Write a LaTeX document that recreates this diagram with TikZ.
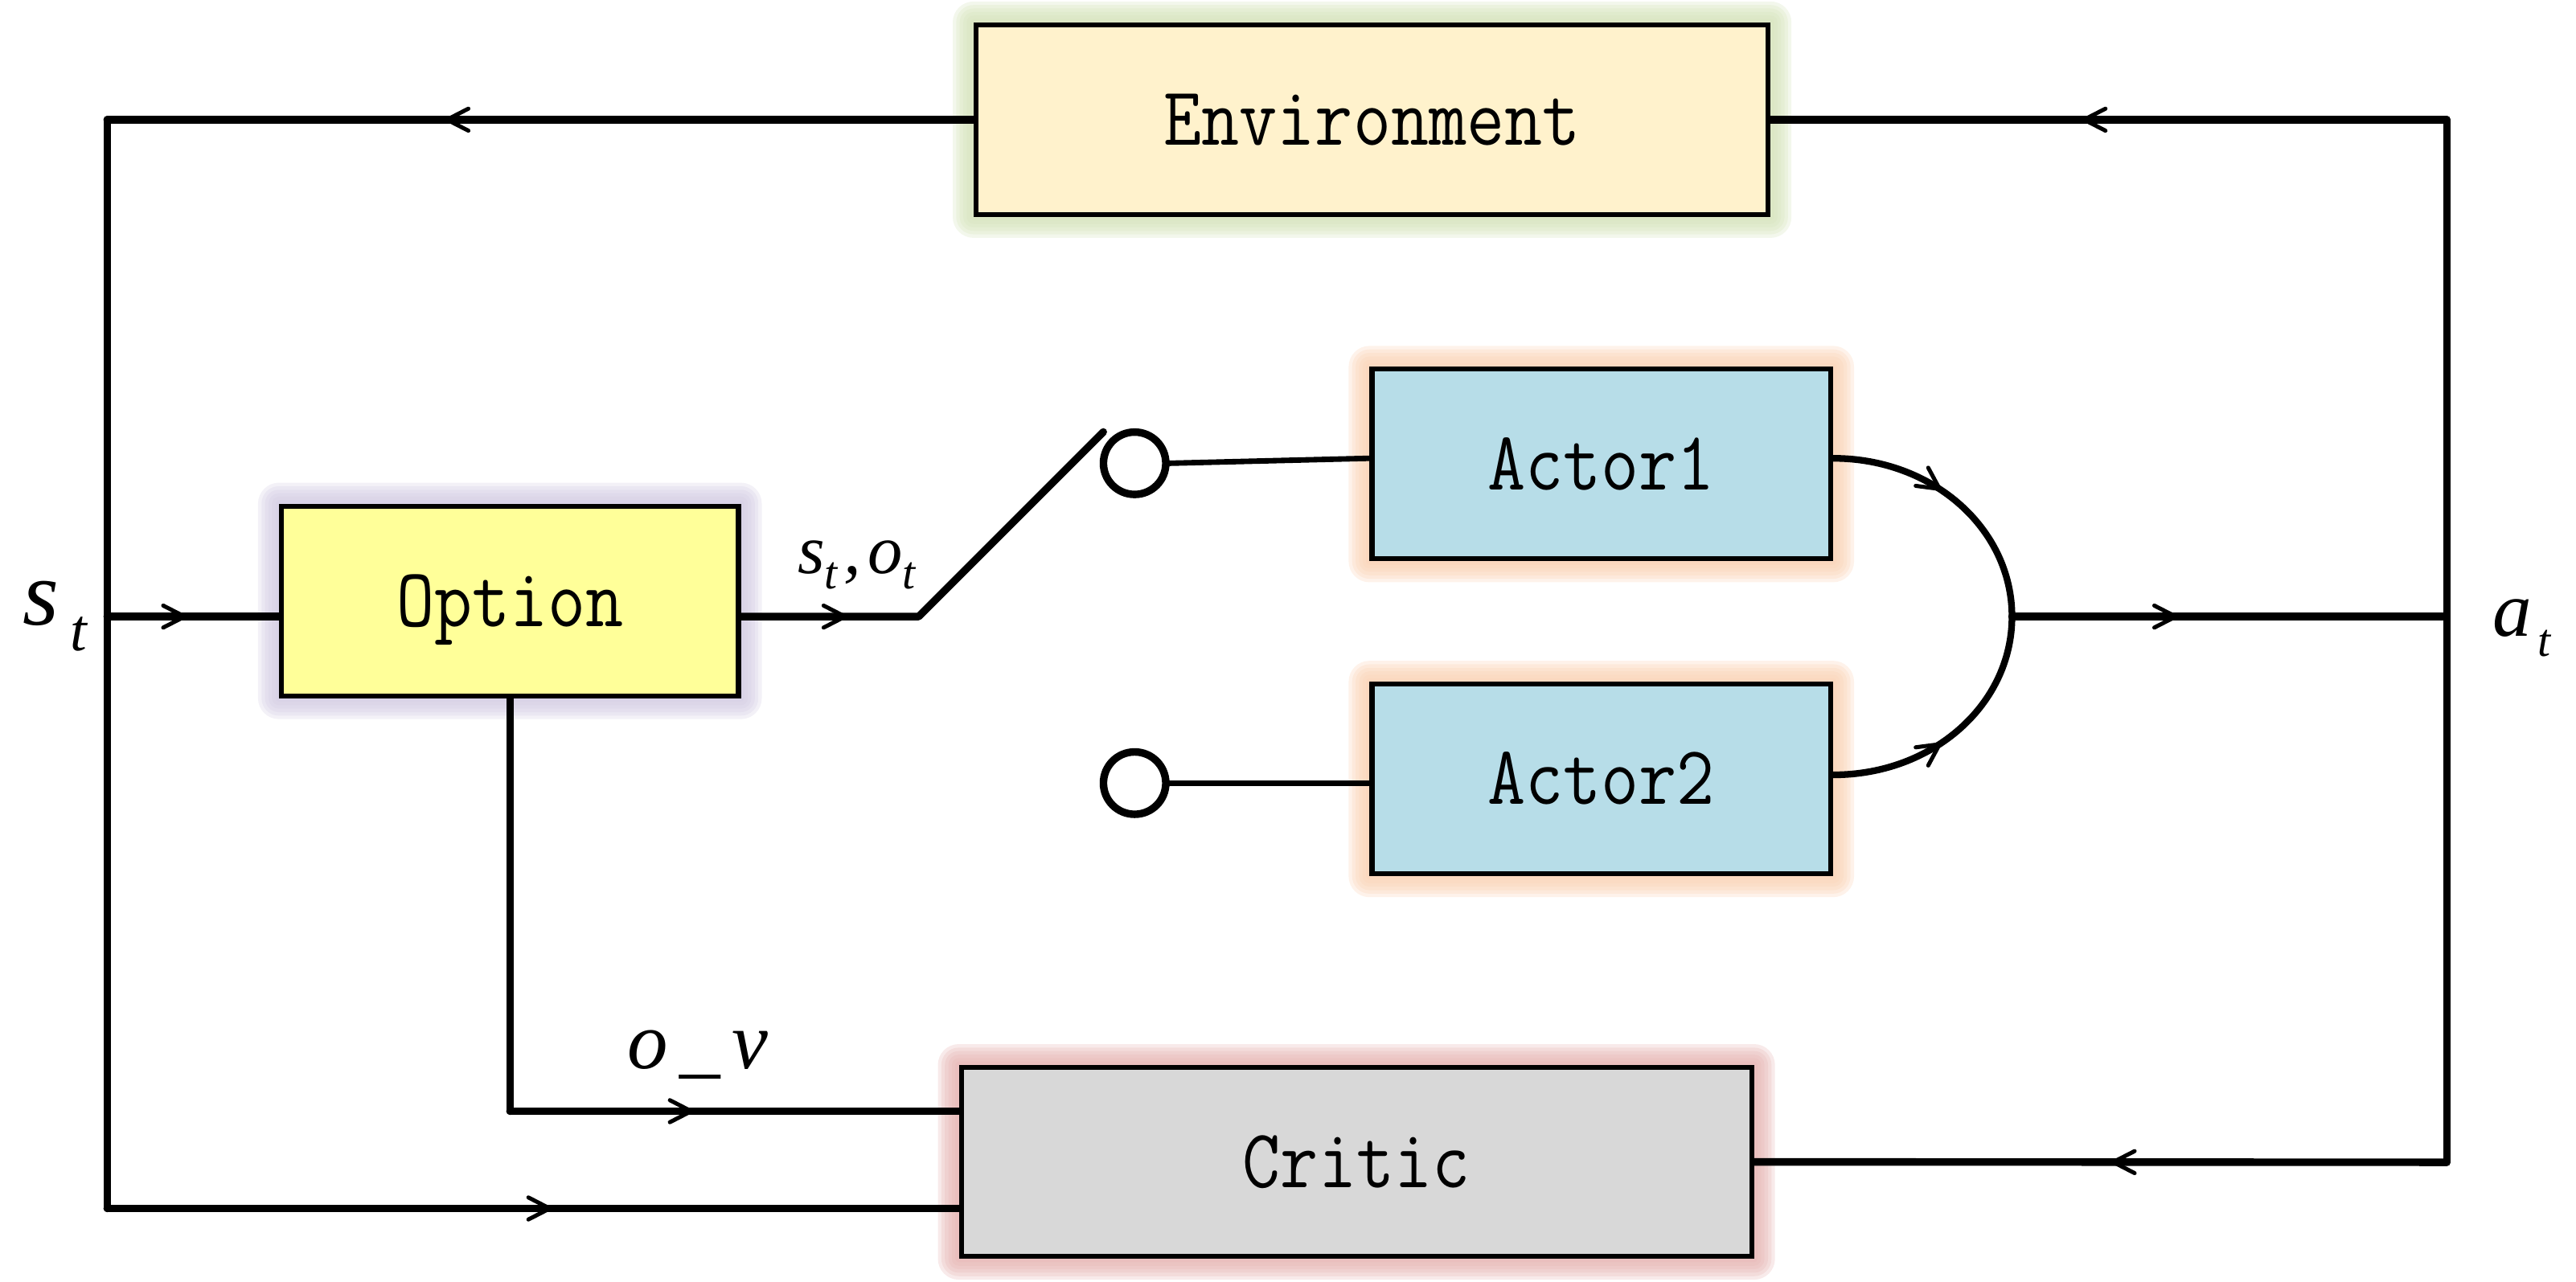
\documentclass[tikz,border=0pt]{standalone}
\usepackage{fontspec}
\usepackage{graphicx}
\newfontfamily\tmsfont{Liberation Serif}
\usetikzlibrary{arrows.meta,decorations.markings,backgrounds,calc}

\definecolor{envfill}{HTML}{FFF2CC}
\definecolor{envglow}{HTML}{D5E3BA}
\definecolor{optfill}{HTML}{FFFF99}
\definecolor{optglow}{HTML}{D3CCE3}
\definecolor{actfill}{HTML}{B7DDE8}
\definecolor{actglow}{HTML}{FAD2B4}
\definecolor{crtfill}{HTML}{D8D8D8}
\definecolor{crtglow}{HTML}{E6B5B3}

\newcommand\boxtxt[1]{\scalebox{0.88}[1]{\fontsize{14.4}{14.4}\selectfont\ttfamily #1}}
\newcommand\glowbox[2]{%
  \foreach \d in {3.6pt,3.0pt,2.4pt,1.8pt,1.2pt,0.6pt}{
    \fill[#2, opacity=0.28, rounded corners=\d]
      ([xshift=-\d,yshift=\d]#1.north west) rectangle ([xshift=\d,yshift=-\d]#1.south east);
  }}

\begin{document}
\begin{tikzpicture}[x=0.01cm,y=-0.01cm,
  blk/.style={draw, line width=0.85pt, inner sep=0pt, text height=8.8pt, text depth=0pt},
  wire/.style={line width=1.3pt, line join=round, line cap=round},
  thinwire/.style={line width=0.95pt, line cap=round},
  port/.style={circle, draw, fill=white, line width=1.3pt, minimum size=0.378cm, inner sep=0pt},
  flowmark/.style={postaction={decorate,decoration={markings,mark=at position #1 with {\arrow{Straight Barb[length=3.7pt,width=3.8pt,line width=0.7pt,line cap=round]}}}}},
  lbl/.style={inner sep=0pt, anchor=base west}]

\useasboundingbox (0,0) rectangle (1562,777.6);

% blocks
\node[blk, fill=envfill, minimum width=4.80cm, minimum height=1.15cm] (env) at (832,72.6) {\boxtxt{Environment}};
\node[blk, fill=optfill, minimum width=2.77cm, minimum height=1.15cm] (opt) at (309.2,364.5) {\boxtxt{Option}};
\node[blk, fill=actfill, minimum width=2.78cm, minimum height=1.15cm] (act1) at (971,281.5) {\boxtxt{Actor1}};
\node[blk, fill=actfill, minimum width=2.78cm, minimum height=1.15cm] (act2) at (971,472.5) {\boxtxt{Actor2}};
\node[blk, fill=crtfill, minimum width=4.79cm, minimum height=1.145cm] (crt) at (822.5,704.75) {\boxtxt{Critic}};

% switch contacts
\node[port] (p1) at (688,281) {};
\node[port] (p2) at (688,475) {};

% glows
\begin{scope}[on background layer]
  \glowbox{env}{envglow}
  \glowbox{opt}{optglow}
  \glowbox{act1}{actglow}
  \glowbox{act2}{actglow}
  \glowbox{crt}{crtglow}
\end{scope}

% junction coordinates
\coordinate (tl) at (65,72.6);
\coordinate (bl) at (65,733);
\coordinate (jl) at (65,374);
\coordinate (sw) at (557,374);
\coordinate (swt) at (669,262);
\coordinate (apex) at (1220,374);
\coordinate (jr) at (1483.6,374);
\coordinate (tr) at (1483.6,72.6);
\coordinate (br) at (1483.6,705);
\coordinate (ob) at (309.2,674);

% left loop
\draw[wire,flowmark=0.613] (env.west) -- (tl);
\draw[wire] (tl) -- (bl);
\draw[wire,flowmark=0.525] (bl) -- (crt.west |- bl);
\draw[wire,flowmark=0.477] (jl) -- (opt.west |- jl);

% option to switch
\draw[wire,flowmark=0.2477] (opt.east |- sw) -- (sw) -- (swt);

% contacts to actors
\draw[thinwire] (p1.east) -- ($(act1.west)+(0,-3.5)$);
\draw[thinwire] (p2.east) -- (act2.west |- p2.east);

% actors merge
\draw[line width=1.15pt, line cap=round, flowmark=0.44] ($(act1.east)+(0,-3.5)$) .. controls +(60.75,0) and +(0,-53) .. (apex);
\draw[line width=1.15pt, line cap=round, flowmark=0.44] ($(act2.east)+(0,-2.5)$) .. controls +(60.75,0) and +(0,53) .. (apex);
\draw[wire,flowmark=0.387] (apex) -- (jr);

% right loop
\draw[wire] (tr) -- (br);
\draw[wire,flowmark=0.543] (tr) -- (env.east);
\draw[wire,flowmark=0.488] (br) -- (crt.east);

% option value to critic
\draw[wire] (opt.south) -- (ob);
\draw[wire,flowmark=0.414] (ob) -- (crt.west |- ob);

% labels
\node[lbl] (lst) at (13,379) {\tmsfont\itshape\fontsize{16}{16}\selectfont s\kern2pt\raisebox{-4.5pt}{\fontsize{10.3}{10.3}\selectfont t}};
\node[lbl] (lat) at (1511,386) {\tmsfont\itshape\fontsize{13.5}{13.5}\selectfont a\kern1pt\raisebox{-3.4pt}{\fontsize{8}{8}\selectfont t}};
\node[lbl] (lso) at (483,348) {\tmsfont\itshape\fontsize{12}{12}\selectfont s\raisebox{-2.6pt}{\fontsize{8}{8}\selectfont t}\kern1pt,\kern1.2pt o\raisebox{-2.6pt}{\fontsize{8}{8}\selectfont t}};
\node[lbl] (lov) at (380,648.4) {\tmsfont\itshape\fontsize{14}{14}\selectfont o\kern2pt\_\kern2pt v};
\end{tikzpicture}
\end{document}
